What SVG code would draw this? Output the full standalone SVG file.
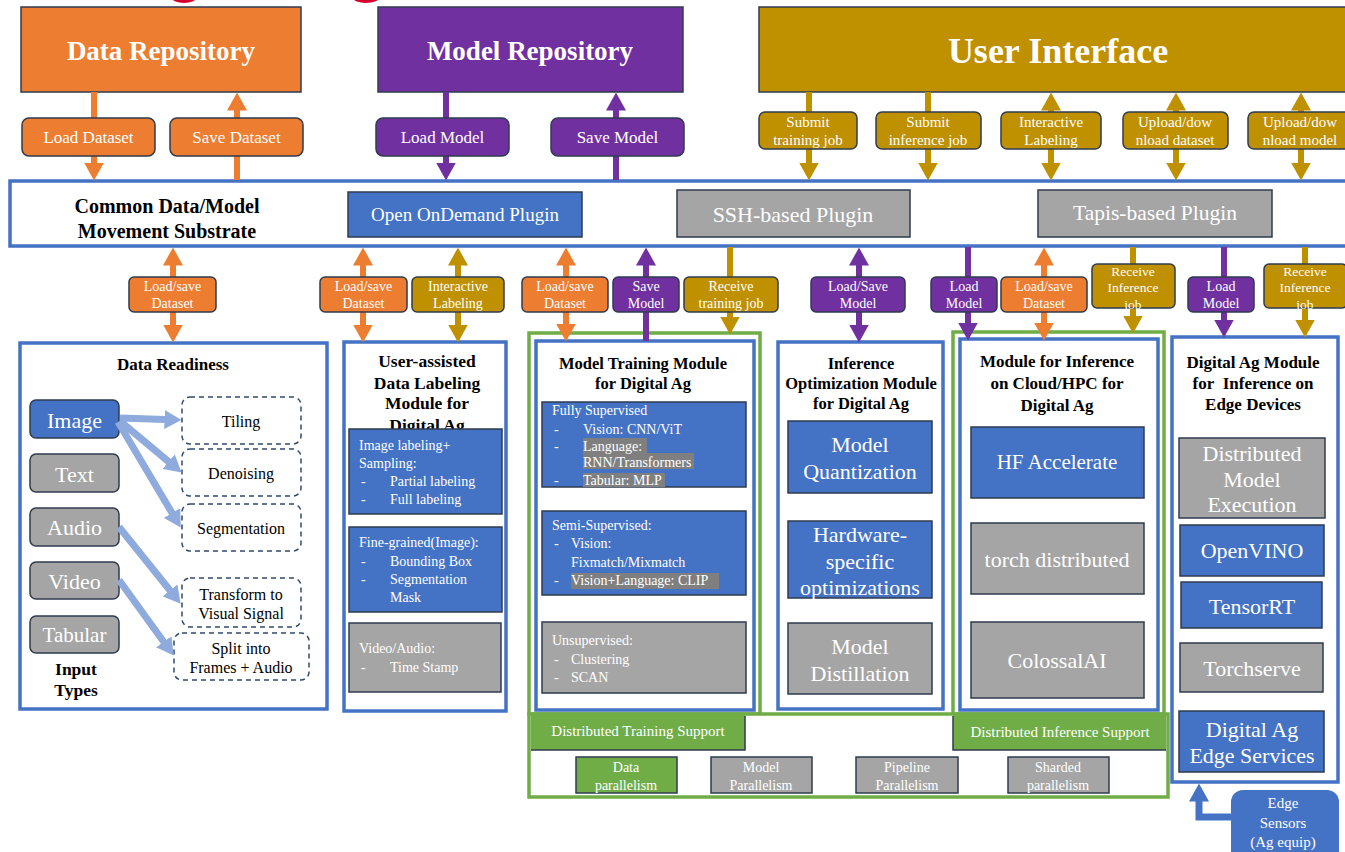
<svg xmlns="http://www.w3.org/2000/svg" width="1345" height="852" viewBox="0 0 1345 852">
<style>
text{font-family:"Liberation Serif","Times New Roman",serif;dominant-baseline:central}
.w{fill:#fff}
.k{fill:#000}
.b{font-weight:bold}
.m{text-anchor:middle}
.org{fill:#ED7D31}
.pur{fill:#7030A0}
.gld{fill:#BF9000}
.blu{fill:#4472C4}
.gry{fill:#A5A5A5}
.grn{fill:#70AD47}
.ln{stroke:#2F3B4F;stroke-width:1.5}
.frame{fill:#fff;stroke:#4472C4;stroke-width:3.5}
.gframe{fill:none;stroke:#70AD47;stroke-width:3.5}
.dash{fill:#fff;stroke:#2F4A6D;stroke-width:1.5;stroke-dasharray:5 4}
.hl{fill:#7F7F7F}
.arr{fill:none;stroke-width:6}
.a-org{stroke:#ED7D31}
.a-pur{stroke:#7030A0}
.a-gld{stroke:#BF9000}
.a-lb{stroke:#8FAADC;stroke-width:7}
.a-blu{stroke:#4472C4;stroke-width:7}
.f14{font-size:14px}
.f15{font-size:15px}
.f17{font-size:17.5px}
.f22{font-size:22px}
</style>
<defs>
<marker id="h-org" viewBox="0 0 18 20" refX="0.5" refY="10" markerWidth="18" markerHeight="20" markerUnits="userSpaceOnUse" orient="auto-start-reverse"><path d="M0,0 L18,10 L0,20 z" fill="#ED7D31"/></marker>
<marker id="h-pur" viewBox="0 0 18 20" refX="0.5" refY="10" markerWidth="18" markerHeight="20" markerUnits="userSpaceOnUse" orient="auto-start-reverse"><path d="M0,0 L18,10 L0,20 z" fill="#7030A0"/></marker>
<marker id="h-gld" viewBox="0 0 18 20" refX="0.5" refY="10" markerWidth="18" markerHeight="20" markerUnits="userSpaceOnUse" orient="auto-start-reverse"><path d="M0,0 L18,10 L0,20 z" fill="#BF9000"/></marker>
<marker id="h-lb" viewBox="0 0 17 19" refX="0.5" refY="9.5" markerWidth="17" markerHeight="19" markerUnits="userSpaceOnUse" orient="auto"><path d="M0,0 L17,9.5 L0,19 z" fill="#8FAADC"/></marker>
<marker id="h-blu" viewBox="0 0 18 20" refX="0.5" refY="10" markerWidth="18" markerHeight="20" markerUnits="userSpaceOnUse" orient="auto"><path d="M0,0 L18,10 L0,20 z" fill="#4472C4"/></marker>
</defs>

<rect width="1345" height="852" fill="#fff"/>

<!-- red marks clipped at the top edge -->
<ellipse cx="184" cy="-2" rx="12" ry="5" fill="#D6002F"/>
<ellipse cx="366" cy="-2" rx="13" ry="5" fill="#D6002F"/>

<!-- repositories and user interface -->
<g id="data-repository">
<rect x="21" y="7" width="280" height="85" class="org ln"/>
<text x="161" y="51" class="w b m" font-size="27">Data Repository</text>
</g>
<g id="model-repository">
<rect x="378" y="7" width="305" height="85" class="pur ln"/>
<text x="530" y="51" class="w b m" font-size="27">Model Repository</text>
</g>
<g id="user-interface">
<rect x="759" y="7" width="600" height="85" class="gld ln"/>
<text x="1058" y="51" class="w b m" font-size="36">User Interface</text>
</g>

<!-- common substrate -->
<g id="substrate">
<rect x="10" y="181" width="1345" height="65" class="frame" stroke-width="4"/>
<text x="167" y="206" class="k b m" font-size="20">Common Data/Model</text>
<text x="167" y="231" class="k b m" font-size="20">Movement Substrate</text>
</g>
<g id="plugin-ood">
<rect x="348" y="192" width="234" height="45" class="blu ln"/>
<text x="465" y="214" class="w m" font-size="19">Open OnDemand Plugin</text>
</g>
<g id="plugin-ssh">
<rect x="677" y="190" width="233" height="47" class="gry ln"/>
<text x="793" y="214" class="w m" font-size="22">SSH-based Plugin</text>
</g>
<g id="plugin-tapis">
<rect x="1038" y="190" width="234" height="47" class="gry ln"/>
<text x="1155" y="213" class="w m" font-size="21.5">Tapis-based Plugin</text>
</g>

<!-- modules -->
<g id="data-readiness">
<rect x="20" y="343" width="307" height="366" class="frame"/>
<text x="173" y="364" class="k b m" font-size="17">Data Readiness</text>
<rect x="30" y="400" width="89" height="38" rx="6" class="blu ln"/>
<text x="74.5" y="420" class="w m f22">Image</text>
<rect x="30" y="454" width="89" height="38" rx="6" class="gry ln"/>
<text x="74.5" y="474" class="w m f22">Text</text>
<rect x="30" y="508" width="89" height="38" rx="6" class="gry ln"/>
<text x="74.5" y="527" class="w m f22">Audio</text>
<rect x="30" y="562" width="89" height="37" rx="6" class="gry ln"/>
<text x="74.5" y="581" class="w m f22">Video</text>
<rect x="30" y="616" width="89" height="37" rx="6" class="gry ln"/>
<text x="74.5" y="635" class="w m" font-size="21">Tabular</text>
<text x="76" y="669" class="k b m f17">Input</text>
<text x="76" y="690" class="k b m f17">Types</text>
<rect x="182" y="397" width="119" height="47" rx="8" class="dash"/>
<text x="241" y="421" class="k m" font-size="16">Tiling</text>
<rect x="182" y="449" width="119" height="47" rx="8" class="dash"/>
<text x="241" y="473" class="k m" font-size="16">Denoising</text>
<rect x="182" y="504" width="119" height="47" rx="8" class="dash"/>
<text x="241" y="528" class="k m" font-size="16">Segmentation</text>
<rect x="182" y="578" width="119" height="49" rx="8" class="dash"/>
<text x="241" y="594" class="k m" font-size="16">Transform to</text>
<text x="241" y="613" class="k m" font-size="16">Visual Signal</text>
<rect x="174" y="633" width="135" height="47" rx="8" class="dash"/>
<text x="241" y="648" class="k m" font-size="16">Split into</text>
<text x="241" y="667" class="k m" font-size="16">Frames + Audio</text>
</g>

<g id="data-labeling">
<rect x="344" y="342" width="162" height="369" class="frame"/>
<text x="427" y="361" class="k b m f17">User-assisted</text>
<text x="427" y="383" class="k b m f17">Data Labeling</text>
<text x="427" y="403" class="k b m f17">Module for</text>
<text x="427" y="425" class="k b m f17">Digital Ag</text>
<rect x="349" y="429" width="153" height="85" class="blu ln"/>
<text x="359" y="445" class="w f14">Image labeling+</text>
<text x="359" y="463" class="w f14">Sampling:</text>
<text x="361" y="481" class="w f14">-</text><text x="390" y="481" class="w f14">Partial labeling</text>
<text x="361" y="499" class="w f14">-</text><text x="390" y="499" class="w f14">Full labeling</text>
<rect x="349" y="527" width="153" height="85" class="blu ln"/>
<text x="359" y="542" class="w f14">Fine-grained(Image):</text>
<text x="361" y="561" class="w f14">-</text><text x="390" y="561" class="w f14">Bounding Box</text>
<text x="361" y="579" class="w f14">-</text><text x="390" y="579" class="w f14">Segmentation</text>
<text x="390" y="597" class="w f14">Mask</text>
<rect x="349" y="623" width="152" height="69" class="gry ln"/>
<text x="359" y="648" class="w f14">Video/Audio:</text>
<text x="361" y="667" class="w f14">-</text><text x="390" y="667" class="w f14">Time Stamp</text>
</g>

<g id="model-training">
<rect x="529" y="333" width="231" height="381" class="gframe"/>
<rect x="536" y="341" width="218" height="369" class="frame"/>
<text x="643" y="363" class="k b m" font-size="16.5">Model Training Module</text>
<text x="643" y="383" class="k b m" font-size="16.5">for Digital Ag</text>
<rect x="542" y="402" width="204" height="85" class="blu ln"/>
<rect x="583" y="438" width="64" height="15" class="hl"/>
<rect x="583" y="453" width="111" height="16" class="hl"/>
<rect x="583" y="473" width="82" height="14" class="hl"/>
<text x="552" y="410" class="w f14">Fully Supervised</text>
<text x="554" y="429" class="w f14">-</text><text x="583" y="429" class="w f14">Vision: CNN/ViT</text>
<text x="554" y="446" class="w f14">-</text><text x="583" y="446" class="w f14">Language:</text>
<text x="583" y="462" class="w f14">RNN/Transformers</text>
<text x="554" y="480" class="w f14">-</text><text x="583" y="480" class="w f14">Tabular: MLP</text>
<rect x="542" y="511" width="204" height="84" class="blu ln"/>
<rect x="571" y="573" width="148" height="16" class="hl"/>
<text x="552" y="525" class="w f14">Semi-Supervised:</text>
<text x="554" y="543" class="w f14">-</text><text x="571" y="543" class="w f14">Vision:</text>
<text x="571" y="562" class="w f14">Fixmatch/Mixmatch</text>
<text x="554" y="580" class="w f14">-</text><text x="571" y="580" class="w f14">Vision+Language: CLIP</text>
<rect x="542" y="622" width="204" height="71" class="gry ln"/>
<text x="552" y="640" class="w f14">Unsupervised:</text>
<text x="554" y="659" class="w f14">-</text><text x="571" y="659" class="w f14">Clustering</text>
<text x="554" y="677" class="w f14">-</text><text x="571" y="677" class="w f14">SCAN</text>
</g>

<g id="inference-optimization">
<rect x="778" y="342" width="165" height="367" class="frame"/>
<text x="861" y="363" class="k b m" font-size="16.5">Inference</text>
<text x="861" y="383" class="k b m" font-size="16.5">Optimization Module</text>
<text x="861" y="403" class="k b m" font-size="16.5">for Digital Ag</text>
<rect x="788" y="421" width="144" height="72" class="blu ln"/>
<text x="860" y="444" class="w m f22">Model</text>
<text x="860" y="471" class="w m f22">Quantization</text>
<rect x="788" y="521" width="144" height="77" class="blu ln"/>
<text x="860" y="534" class="w m f22">Hardware-</text>
<text x="860" y="561" class="w m f22">specific</text>
<text x="860" y="587" class="w m f22">optimizations</text>
<rect x="788" y="623" width="144" height="71" class="gry ln"/>
<text x="860" y="646" class="w m f22">Model</text>
<text x="860" y="673" class="w m f22">Distillation</text>
</g>

<g id="cloud-inference">
<rect x="953" y="332" width="211" height="382" class="gframe"/>
<rect x="960" y="339" width="198" height="371" class="frame"/>
<text x="1057" y="361" class="k b m" font-size="17">Module for Inference</text>
<text x="1057" y="383" class="k b m" font-size="17">on Cloud/HPC for</text>
<text x="1057" y="405" class="k b m" font-size="17">Digital Ag</text>
<rect x="971" y="427" width="173" height="71" class="blu ln"/>
<text x="1057" y="462" class="w m" font-size="21">HF Accelerate</text>
<rect x="971" y="523" width="173" height="71" class="gry ln"/>
<text x="1057" y="559" class="w m f22">torch distributed</text>
<rect x="971" y="622" width="173" height="76" class="gry ln"/>
<text x="1057" y="660" class="w m f22">ColossalAI</text>
</g>

<g id="edge-inference">
<rect x="1172" y="337" width="166" height="445" class="frame"/>
<text x="1253" y="362" class="k b m" font-size="17">Digital Ag Module</text>
<text x="1253" y="383" class="k b m" font-size="17">for&#160; Inference on</text>
<text x="1253" y="404" class="k b m" font-size="17">Edge Devices</text>
<rect x="1179" y="438" width="146" height="80" class="gry ln"/>
<text x="1252" y="453" class="w m f22">Distributed</text>
<text x="1252" y="479" class="w m f22">Model</text>
<text x="1252" y="504" class="w m f22">Execution</text>
<rect x="1180" y="525" width="144" height="51" class="blu ln"/>
<text x="1252" y="550" class="w m f22">OpenVINO</text>
<rect x="1181" y="582" width="141" height="46" class="blu ln"/>
<text x="1252" y="606" class="w m f22">TensorRT</text>
<rect x="1180" y="643" width="143" height="49" class="gry ln"/>
<text x="1252" y="668" class="w m f22">Torchserve</text>
<rect x="1179" y="711" width="145" height="61" class="blu ln"/>
<text x="1252" y="729" class="w m f22">Digital Ag</text>
<text x="1252" y="755" class="w m f22">Edge Services</text>
</g>

<g id="edge-sensors">
<rect x="1231" y="790" width="108" height="74" rx="12" class="blu"/>
<text x="1283" y="803" class="w m f15">Edge</text>
<text x="1283" y="823" class="w m f15">Sensors</text>
<text x="1283" y="842" class="w m f15">(Ag equip)</text>
</g>

<g id="distributed-support">
<rect x="529" y="714" width="639" height="83" fill="#fff" stroke="#70AD47" stroke-width="3.5"/>
<rect x="531" y="713" width="214" height="37" class="grn"/>
<path d="M531,750 H745 V716" fill="none" stroke="#2F3B4F" stroke-width="1.5"/>
<text x="638" y="731" class="w m f15">Distributed Training Support</text>
<rect x="953" y="713" width="213" height="37" class="grn"/>
<path d="M953,716 V750 H1166" fill="none" stroke="#2F3B4F" stroke-width="1.5"/>
<text x="1060" y="732" class="w m f15">Distributed Inference Support</text>
<rect x="576" y="757" width="101" height="36" class="grn ln"/>
<text x="626" y="767" class="w m f14">Data</text>
<text x="626" y="785" class="w m f14">parallelism</text>
<rect x="711" y="757" width="101" height="36" class="gry ln"/>
<text x="761" y="767" class="w m f14">Model</text>
<text x="761" y="785" class="w m f14">Parallelism</text>
<rect x="856" y="757" width="102" height="36" class="gry ln"/>
<text x="907" y="767" class="w m f14">Pipeline</text>
<text x="907" y="785" class="w m f14">Parallelism</text>
<rect x="1008" y="757" width="101" height="36" class="gry ln"/>
<text x="1058" y="767" class="w m f14">Sharded</text>
<text x="1058" y="785" class="w m f14">parallelism</text>
</g>

<!-- connectors -->
<g id="connectors" class="arr">
<path d="M94,92 V163" class="a-org" marker-end="url(#h-org)"/>
<path d="M237,180 V110" class="a-org" marker-end="url(#h-org)"/>
<path d="M446,92 V163" class="a-pur" marker-end="url(#h-pur)"/>
<path d="M616,180 V110" class="a-pur" marker-end="url(#h-pur)"/>
<path d="M809,92 V163" class="a-gld" marker-end="url(#h-gld)"/>
<path d="M928,92 V163" class="a-gld" marker-end="url(#h-gld)"/>
<path d="M1051,110 V163" class="a-gld" marker-start="url(#h-gld)" marker-end="url(#h-gld)"/>
<path d="M1176,110 V163" class="a-gld" marker-start="url(#h-gld)" marker-end="url(#h-gld)"/>
<path d="M1301,110 V163" class="a-gld" marker-start="url(#h-gld)" marker-end="url(#h-gld)"/>

<path d="M173,265 V325" class="a-org" marker-start="url(#h-org)" marker-end="url(#h-org)"/>
<path d="M363,265 V325" class="a-org" marker-start="url(#h-org)" marker-end="url(#h-org)"/>
<path d="M458,265 V325" class="a-gld" marker-start="url(#h-gld)" marker-end="url(#h-gld)"/>
<path d="M566,265 V324" class="a-org" marker-start="url(#h-org)" marker-end="url(#h-org)"/>
<path d="M646,341 V265" class="a-pur" marker-end="url(#h-pur)"/>
<path d="M730,247 V317" class="a-gld" marker-end="url(#h-gld)"/>
<path d="M859,265 V325" class="a-pur" marker-start="url(#h-pur)" marker-end="url(#h-pur)"/>
<path d="M968,247 V323" class="a-pur" marker-end="url(#h-pur)"/>
<path d="M1044,265 V323" class="a-org" marker-start="url(#h-org)" marker-end="url(#h-org)"/>
<path d="M1133,247 V316" class="a-gld" marker-end="url(#h-gld)"/>
<path d="M1224,247 V320" class="a-pur" marker-end="url(#h-pur)"/>
<path d="M1305,247 V320" class="a-gld" marker-end="url(#h-gld)"/>

<path d="M120,418 L165,419.5" class="a-lb" marker-end="url(#h-lb)"/>
<path d="M120,421 L169,462" class="a-lb" marker-end="url(#h-lb)"/>
<path d="M118,422 L172.3,513.4" class="a-lb" marker-end="url(#h-lb)"/>
<path d="M119,527 L170.3,590.8" class="a-lb" marker-end="url(#h-lb)"/>
<path d="M119,580 L164,642.2" class="a-lb" marker-end="url(#h-lb)"/>

<path d="M1231,817 H1199 V801" class="a-blu" marker-end="url(#h-blu)"/>
</g>

<!-- connector labels -->
<g id="label-load-dataset">
<rect x="22" y="118" width="133" height="38" rx="7" class="org ln"/>
<text x="88.5" y="137" class="w m" font-size="17">Load Dataset</text>
</g>
<g id="label-save-dataset">
<rect x="170" y="118" width="133" height="38" rx="7" class="org ln"/>
<text x="236.5" y="137" class="w m" font-size="17">Save Dataset</text>
</g>
<g id="label-load-model">
<rect x="376" y="118" width="133" height="38" rx="7" class="pur ln"/>
<text x="442.5" y="137" class="w m" font-size="17">Load Model</text>
</g>
<g id="label-save-model">
<rect x="551" y="118" width="133" height="38" rx="7" class="pur ln"/>
<text x="617.5" y="137" class="w m" font-size="17">Save Model</text>
</g>
<g id="label-submit-training">
<rect x="759" y="112" width="98" height="37" rx="6" class="gld ln"/>
<text x="808" y="122" class="w m f15">Submit</text>
<text x="808" y="140" class="w m f15">training job</text>
</g>
<g id="label-submit-inference">
<rect x="876" y="112" width="105" height="37" rx="6" class="gld ln"/>
<text x="928" y="122" class="w m f15">Submit</text>
<text x="928" y="140" class="w m f15">inference job</text>
</g>
<g id="label-ui-labeling">
<rect x="1001" y="112" width="100" height="37" rx="6" class="gld ln"/>
<text x="1051" y="122" class="w m f15">Interactive</text>
<text x="1051" y="140" class="w m f15">Labeling</text>
</g>
<g id="label-ui-dataset">
<rect x="1123" y="112" width="105" height="37" rx="6" class="gld ln"/>
<text x="1175" y="122" class="w m f15">Upload/dow</text>
<text x="1175" y="140" class="w m f15">nload dataset</text>
</g>
<g id="label-ui-model">
<rect x="1248" y="112" width="105" height="37" rx="6" class="gld ln"/>
<text x="1300" y="122" class="w m f15">Upload/dow</text>
<text x="1300" y="140" class="w m f15">nload model</text>
</g>

<g id="label-readiness-dataset">
<rect x="129" y="277" width="87" height="35" rx="5" class="org ln"/>
<text x="172.5" y="286" class="w m f14">Load/save</text>
<text x="172.5" y="303" class="w m f14">Dataset</text>
</g>
<g id="label-labeling-dataset">
<rect x="320" y="277" width="87" height="35" rx="5" class="org ln"/>
<text x="363.5" y="286" class="w m f14">Load/save</text>
<text x="363.5" y="303" class="w m f14">Dataset</text>
</g>
<g id="label-labeling-interactive">
<rect x="412" y="277" width="92" height="35" rx="5" class="gld ln"/>
<text x="458" y="286" class="w m f14">Interactive</text>
<text x="458" y="303" class="w m f14">Labeling</text>
</g>
<g id="label-training-dataset">
<rect x="522" y="277" width="86" height="35" rx="5" class="org ln"/>
<text x="565" y="286" class="w m f14">Load/save</text>
<text x="565" y="303" class="w m f14">Dataset</text>
</g>
<g id="label-training-save-model">
<rect x="613" y="277" width="66" height="35" rx="5" class="pur ln"/>
<text x="646" y="286" class="w m f14">Save</text>
<text x="646" y="303" class="w m f14">Model</text>
</g>
<g id="label-training-job">
<rect x="684" y="277" width="94" height="35" rx="5" class="gld ln"/>
<text x="731" y="286" class="w m f14">Receive</text>
<text x="731" y="303" class="w m f14">training job</text>
</g>
<g id="label-optimization-model">
<rect x="811" y="277" width="94" height="35" rx="5" class="pur ln"/>
<text x="858" y="286" class="w m f14">Load/Save</text>
<text x="858" y="303" class="w m f14">Model</text>
</g>
<g id="label-cloud-load-model">
<rect x="931" y="277" width="66" height="35" rx="5" class="pur ln"/>
<text x="964" y="286" class="w m f14">Load</text>
<text x="964" y="303" class="w m f14">Model</text>
</g>
<g id="label-cloud-dataset">
<rect x="1001" y="277" width="86" height="35" rx="5" class="org ln"/>
<text x="1044" y="286" class="w m f14">Load/save</text>
<text x="1044" y="303" class="w m f14">Dataset</text>
</g>
<g id="label-cloud-job">
<rect x="1092" y="264" width="83" height="44" rx="5" class="gld ln"/>
<text x="1133" y="271" class="w m" font-size="13.5">Receive</text>
<text x="1133" y="287" class="w m" font-size="13.5">Inference</text>
<text x="1133" y="304" class="w m" font-size="13.5">job</text>
</g>
<g id="label-edge-load-model">
<rect x="1188" y="277" width="66" height="35" rx="5" class="pur ln"/>
<text x="1221" y="286" class="w m f14">Load</text>
<text x="1221" y="303" class="w m f14">Model</text>
</g>
<g id="label-edge-job">
<rect x="1264" y="264" width="83" height="44" rx="5" class="gld ln"/>
<text x="1305" y="271" class="w m" font-size="13.5">Receive</text>
<text x="1305" y="287" class="w m" font-size="13.5">Inference</text>
<text x="1305" y="304" class="w m" font-size="13.5">job</text>
</g>
</svg>
